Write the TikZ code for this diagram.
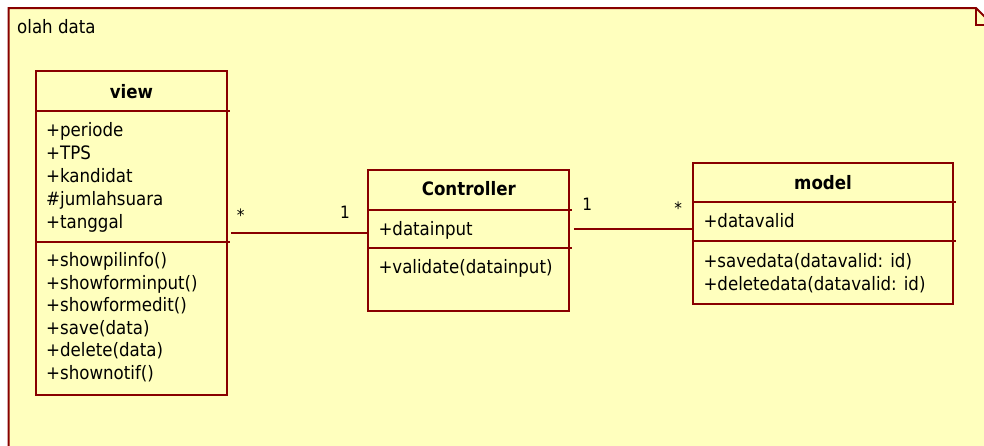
\documentclass[tikz,border=0pt]{standalone}
\usepackage{fontspec}
\setmainfont{DejaVu Sans Condensed}
\definecolor{umlred}{RGB}{136,0,0}
\definecolor{umlfill}{RGB}{255,255,190}
\begin{document}
\begin{tikzpicture}[x=1pt,y=-1pt,
  classbox/.style={draw=umlred, line width=2pt, fill=umlfill, inner sep=0pt},
  sep/.style={draw=umlred, line width=2pt},
  txt/.style={anchor=base west, inner sep=0pt, font=\fontsize{18.5}{22}\selectfont},
  ttl/.style={anchor=base, inner sep=0pt, font=\fontsize{18.5}{22}\selectfont\bfseries},
  mult/.style={anchor=base, inner sep=0pt, font=\fontsize{17}{20}\selectfont},
  link/.style={draw=umlred, line width=2pt}]
\useasboundingbox (0,0) rectangle (984,445);
\fill[white] (0,0) rectangle (984,445);
\begin{scope}
\clip (0,0) rectangle (984,445);
% package frame with folded corner
\filldraw[draw=umlred, line width=2pt, fill=umlfill]
  (8.5,8) -- (976,8) -- (993,25) -- (993,470) -- (8.5,470) -- cycle;
\draw[umlred, line width=2pt] (976,8) -- (976,25) -- (993,25);
\end{scope}
\node[txt] (pkg) at (17,33.3) {olah data};

% class view
\node[classbox, minimum width=191pt, minimum height=324pt] (view) at (131.5,233) {};
\draw[sep] (view.west |- 0,110.7) -- ([xshift=2pt]view.east |- 0,110.7);
\draw[sep] (view.west |- 0,241.7) -- ([xshift=2pt]view.east |- 0,241.7);
\node[ttl] (viewname) at (131.5,98.4) {view};
\node[txt] (v1) at (46,136) {+periode};
\node[txt] (v2) at (46,159.1) {+TPS};
\node[txt] (v3) at (46,182.2) {+kandidat};
\node[txt] (v4) at (46,205.2) {\#jumlahsuara};
\node[txt] (v5) at (46,228.3) {+tanggal};
\node[txt] (m1) at (46,266.7) {+showpilinfo()};
\node[txt] (m2) at (46,289.2) {+showforminput()};
\node[txt] (m3) at (46,311.7) {+showformedit()};
\node[txt] (m4) at (46,334.3) {+save(data)};
\node[txt] (m5) at (46,356.8) {+delete(data)};
\node[txt] (m6) at (46,379.3) {+shownotif()};

% class Controller
\node[classbox, minimum width=201pt, minimum height=141pt] (ctrl) at (468.8,240.5) {};
\draw[sep] (ctrl.west |- 0,210) -- ([xshift=2pt]ctrl.east |- 0,210);
\draw[sep] (ctrl.west |- 0,248.3) -- ([xshift=2pt]ctrl.east |- 0,248.3);
\node[ttl] (ctrlname) at (468.8,195.7) {Controller};
\node[txt] (c1) at (378.3,235) {+datainput};
\node[txt] (c2) at (378.3,273.3) {+validate(datainput)};

% class model
\node[classbox, minimum width=259.4pt, minimum height=140.7pt] (model) at (823,233.65) {};
\draw[sep] (model.west |- 0,202.3) -- ([xshift=2pt]model.east |- 0,202.3);
\draw[sep] (model.west |- 0,240.7) -- ([xshift=2pt]model.east |- 0,240.7);
\node[ttl] (modelname) at (823,189) {model};
\node[txt] (d1) at (703.3,227.3) {+datavalid};
\node[txt] (d2) at (703.3,267.3) {+savedata(datavalid: id)};
\node[txt] (d3) at (703.3,290) {+deletedata(datavalid: id)};

% associations
\coordinate (a1) at ([xshift=3pt]view.east);
\draw[link] (a1) -- (ctrl.west |- a1);
\coordinate (a2) at ([xshift=3.5pt,yshift=11.5pt]ctrl.east);
\draw[link] (a2) -- (model.west |- a2);

% multiplicities
\node[mult] (mv) at (240.7,221) {*};
\node[mult] (mc1) at (345,218.3) {1};
\node[mult] (mc2) at (587.3,210.7) {1};
\node[mult] (mm) at (678.3,214.3) {*};
\end{tikzpicture}
\end{document}
